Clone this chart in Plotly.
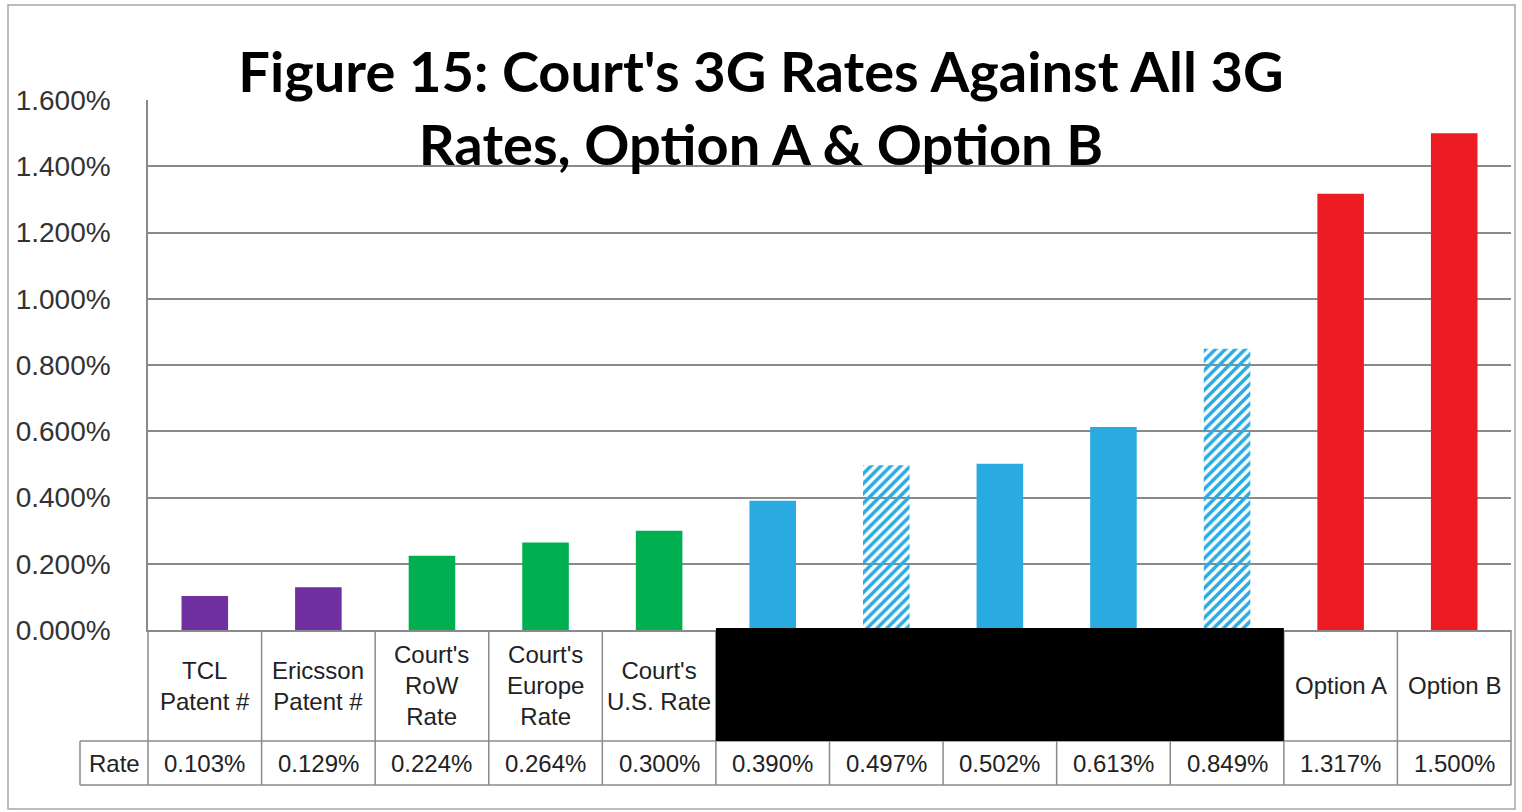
import plotly.graph_objects as go

# ---------------- data ----------------
categories = ["TCL<br>Patent #", "Ericsson<br>Patent #", "Court's<br>RoW<br>Rate",
              "Court's<br>Europe<br>Rate", "Court's<br>U.S. Rate",
              "", "", "", "", "",  # labels redacted in the source
              "Option A", "Option B"]
rates = [0.00103, 0.00129, 0.00224, 0.00264, 0.00300,
         0.00390, 0.00497, 0.00502, 0.00613, 0.00849,
         0.01317, 0.01500]
bar_colors = ["#7030a0", "#7030a0", "#00b050", "#00b050", "#00b050",
              "#29abe2", "#29abe2", "#29abe2", "#29abe2", "#29abe2",
              "#ed1c24", "#ed1c24"]
hatched = [False, False, False, False, False,
           False, True, False, False, True,
           False, False]
redacted = [False] * 5 + [True] * 5 + [False] * 2
row_label = "Rate"
title_text = "Figure 15: Court's 3G Rates Against All 3G<br>Rates, Option A & Option B"

# ---------------- layout geometry ----------------
W, H = 1522, 812
ML, MR, MT, MB = 148, 11, 100, 182
PW, PH = W - ML - MR, H - MT - MB
n = len(categories)


def px(xp):
    return (xp - ML) / PW


def py(yp):
    return (H - MB - yp) / PH


GRID = "#8a8a8a"
FONT = "Liberation Sans"
TXT = "#222222"

x_idx = list(range(n))
fig = go.Figure(go.Bar(
    x=x_idx, y=rates, width=0.41,
    marker=dict(
        color=bar_colors,
        line=dict(width=0),
        pattern=dict(
            shape=["/" if h else "" for h in hatched],
            fgcolor=bar_colors,
            bgcolor=["#dff2fb" if h else c for h, c in zip(hatched, bar_colors)],
            size=7, solidity=0.5, fillmode="replace"),
    ),
    hoverinfo="skip",
))

shapes = []
# table geometry (pixel rows)
row1_top, row1_bot, row2_bot = H - MB, 741, 785
rate_left = 80
line = dict(color=GRID, width=1.5)
# horizontal lines
shapes.append(dict(type="line", xref="paper", yref="paper", x0=px(rate_left), x1=1,
                   y0=py(row1_bot), y1=py(row1_bot), line=line))
shapes.append(dict(type="line", xref="paper", yref="paper", x0=px(rate_left), x1=1,
                   y0=py(row2_bot), y1=py(row2_bot), line=line))
# vertical lines at category boundaries
for i in range(n + 1):
    shapes.append(dict(type="line", xref="paper", yref="paper", x0=i / n, x1=i / n,
                       y0=0, y1=py(row2_bot), line=line))
shapes.append(dict(type="line", xref="paper", yref="paper", x0=px(rate_left), x1=px(rate_left),
                   y0=py(row1_bot), y1=py(row2_bot), line=line))
# redaction box
red_idx = [i for i, r in enumerate(redacted) if r]
shapes.append(dict(type="rect", xref="paper", yref="paper", layer="above",
                   x0=red_idx[0] / n, x1=(red_idx[-1] + 1) / n,
                   y0=py(row1_bot), y1=py(row1_top - 2),
                   fillcolor="black", line=dict(width=0)))
# outer chart border
shapes.append(dict(type="rect", xref="paper", yref="paper",
                   x0=px(8), x1=px(1515), y0=py(809), y1=py(5),
                   line=dict(color="#a6a6a6", width=1.5), fillcolor="rgba(0,0,0,0)"))

annotations = []
for i, (lab, v, r) in enumerate(zip(categories, rates, redacted)):
    if not r:
        annotations.append(dict(x=i, xref="x", y=py((row1_top + row1_bot) / 2), yref="paper",
                                xanchor="center", yanchor="middle",
                                text=lab, showarrow=False,
                                font=dict(family=FONT, size=24, color=TXT)))
    annotations.append(dict(x=i, xref="x", y=py((row1_bot + row2_bot) / 2), yref="paper",
                            xanchor="center", yanchor="middle",
                            text=f"{v:.3%}", showarrow=False,
                            font=dict(family=FONT, size=24, color=TXT)))
annotations.append(dict(x=px((rate_left + ML) / 2), xref="paper",
                        y=py((row1_bot + row2_bot) / 2), yref="paper",
                        xanchor="center", yanchor="middle",
                        text=row_label, showarrow=False,
                        font=dict(family=FONT, size=24, color=TXT)))

fig.update_layout(
    width=W, height=H,
    margin=dict(l=ML, r=MR, t=MT, b=MB),
    paper_bgcolor="white", plot_bgcolor="white",
    showlegend=False,
    title=dict(text=title_text, x=0.5, xref="container", xanchor="center",
               y=1 - 92 / H, yref="container", yanchor="middle",
               font=dict(family="Lato", size=56, color="black", weight="bold")),
    xaxis=dict(range=[-0.5, n - 0.5], showticklabels=False, showgrid=False,
               zeroline=False, showline=True, linecolor=GRID, linewidth=1.5, ticks=""),
    yaxis=dict(range=[0, 0.016], dtick=0.002, tickformat=".3%",
               showgrid=True, gridcolor=GRID, gridwidth=1.8,
               zeroline=False, showline=True, linecolor=GRID, linewidth=1.5,
               ticks="", ticklabelstandoff=30,
               tickfont=dict(family=FONT, size=28, color="#333333")),
    shapes=shapes,
    annotations=annotations,
)

fig.write_html("out.html", config={"displayModeBar": False},
               post_script="document.body.style.margin='0';")
